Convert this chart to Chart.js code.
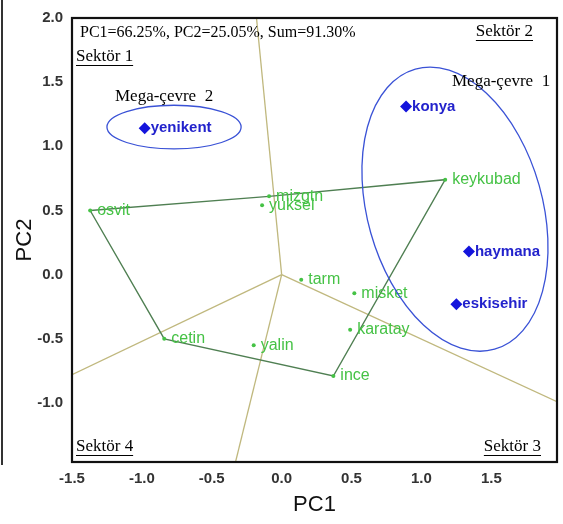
<!DOCTYPE html>
<html>
<head>
<meta charset="utf-8">
<script src="https://cdn.jsdelivr.net/npm/chart.js@4.4.1/dist/chart.umd.min.js"></script>
<style>
  html, body { margin: 0; padding: 0; background: #fff; }
  #wrap { width: 563px; height: 524px; }
</style>
</head>
<body>
<div id="wrap"><canvas id="gge"></canvas></div>
<script>
// genotypes (green dots)
const genotypes = ['osvit', 'mizgtn', 'yuksel', 'keykubad', 'tarm', 'misket', 'karatay', 'ince', 'cetin', 'yalin'];
const genoPC1 = [-1.37, -0.09, -0.14, 1.17, 0.14, 0.52, 0.49, 0.37, -0.84, -0.20];
const genoPC2 = [0.50, 0.61, 0.54, 0.74, -0.04, -0.145, -0.43, -0.79, -0.50, -0.55];

// environments (blue diamonds)
const environments = ['konya', 'haymana', 'eskisehir', 'yenikent'];
const envPC1 = [0.89, 1.34, 1.25, -0.98];
const envPC2 = [1.31, 0.18, -0.23, 1.14];

// polygon vertices
const hullOrder = ['osvit', 'mizgtn', 'keykubad', 'ince', 'cetin', 'osvit'];

// sector rays from origin
const rayPC1 = [-0.18, -0.33, -1.5, 1.97];
const rayPC2 = [2.0, -1.46, -0.78, -0.99];

// mega-environment ellipses
const megaNames = ['Mega-çevre  1', 'Mega-çevre  2'];
const megaPC1 = [1.24, -0.77];
const megaPC2 = [0.51, 1.15];
const megaRx = [0.626, 0.48];
const megaRy = [1.134, 0.17];
const megaTilt = [-15.8, 0];

const xTicks = [-1.5, -1.0, -0.5, 0.0, 0.5, 1.0, 1.5];
const yTicks = [-1.0, -0.5, 0.0, 0.5, 1.0, 1.5, 2.0];

const summaryText = 'PC1=66.25%, PC2=25.05%, Sum=91.30%';
const sectorNames = ['Sektör 1', 'Sektör 2', 'Sektör 3', 'Sektör 4'];

const green = '#45c245';
const blue = '#1414dc';

const genoPts = genotypes.map((g, i) => ({ x: genoPC1[i], y: genoPC2[i] }));
const envPts = environments.map((e, i) => ({ x: envPC1[i], y: envPC2[i] }));
const hullPts = hullOrder.map(n => genoPts[genotypes.indexOf(n)]);

const rayDatasets = rayPC1.map((x, i) => ({
  label: 'ray' + i,
  data: [{ x: 0, y: 0 }, { x: x, y: rayPC2[i] }],
  showLine: true,
  borderColor: '#c0b87e',
  borderWidth: 1.3,
  pointRadius: 0
}));

const serif = '"Liberation Serif", "Times New Roman", serif';
const sans = '"Liberation Sans", Arial, sans-serif';

const decorPlugin = {
  id: 'decor',
  beforeDraw(chart) {
    const ctx = chart.ctx;
    ctx.save();
    ctx.fillStyle = '#fff';
    ctx.fillRect(0, 0, chart.width, chart.height);
    // left edge line from the cropped figure
    ctx.fillStyle = '#333';
    ctx.fillRect(1, 0, 2, 465);
    ctx.restore();
  },
  afterDatasetsDraw(chart) {
    const ctx = chart.ctx;
    const xs = chart.scales.x, ys = chart.scales.y;
    const a = chart.chartArea;
    ctx.save();

    // point labels
    ctx.textBaseline = 'middle';
    ctx.textAlign = 'left';
    ctx.font = '16px ' + sans;
    ctx.fillStyle = green;
    genotypes.forEach((g, i) => {
      ctx.fillText(g, xs.getPixelForValue(genoPC1[i]) + 7, ys.getPixelForValue(genoPC2[i]));
    });
    ctx.font = 'bold 15px ' + sans;
    ctx.fillStyle = '#2222cc';
    environments.forEach((e, i) => {
      ctx.fillText(e, xs.getPixelForValue(envPC1[i]) + 6, ys.getPixelForValue(envPC2[i]));
    });

    // ellipses
    ctx.strokeStyle = '#3a52d6';
    ctx.lineWidth = 1.3;
    megaNames.forEach((m, i) => {
      const cx = xs.getPixelForValue(megaPC1[i]);
      const cy = ys.getPixelForValue(megaPC2[i]);
      const rx = Math.abs(xs.getPixelForValue(megaPC1[i] + megaRx[i]) - cx);
      const ry = Math.abs(ys.getPixelForValue(megaPC2[i] + megaRy[i]) - cy);
      ctx.beginPath();
      ctx.ellipse(cx, cy, rx, ry, megaTilt[i] * Math.PI / 180, 0, Math.PI * 2);
      ctx.stroke();
    });

    // annotation text
    ctx.fillStyle = '#000';
    ctx.font = '16px ' + serif;
    ctx.fillText(summaryText, a.left + 8, a.top + 15);

    ctx.font = '17px ' + serif;
    ctx.fillText(megaNames[1], a.left + 43, a.top + 79);
    ctx.fillText(megaNames[0], a.left + 380, a.top + 64);

    const sectorPos = [
      [a.left + 4, a.top + 39, 'left'],
      [a.right - 24, a.top + 14, 'right'],
      [a.right - 16, a.bottom - 15, 'right'],
      [a.left + 4, a.bottom - 15, 'left']
    ];
    ctx.strokeStyle = '#000';
    ctx.lineWidth = 1;
    sectorNames.forEach((s, i) => {
      const [px, py, al] = sectorPos[i];
      ctx.textAlign = al;
      ctx.fillText(s, px, py);
      const w = ctx.measureText(s).width;
      const x0 = al === 'left' ? px : px - w;
      ctx.beginPath();
      ctx.moveTo(x0, py + 8.5);
      ctx.lineTo(x0 + w, py + 8.5);
      ctx.stroke();
    });

    // frame
    ctx.strokeStyle = '#111';
    ctx.lineWidth = 2.2;
    ctx.strokeRect(a.left, a.top, a.right - a.left, a.bottom - a.top);
    ctx.restore();
  }
};

new Chart(document.getElementById('gge'), {
  type: 'scatter',
  data: {
    datasets: [
      {
        label: 'environments',
        data: envPts,
        pointStyle: 'rectRot',
        pointRadius: 6,
        backgroundColor: blue,
        borderColor: blue,
        borderWidth: 0
      },
      {
        label: 'genotypes',
        data: genoPts,
        pointRadius: 2,
        backgroundColor: green,
        borderColor: green,
        borderWidth: 0
      },
      {
        label: 'polygon',
        data: hullPts,
        showLine: true,
        borderColor: '#4f7f52',
        borderWidth: 1.4,
        pointRadius: 0
      },
      ...rayDatasets
    ]
  },
  options: {
    responsive: true,
    maintainAspectRatio: false,
    animation: false,
    layout: { padding: { left: 0, right: 5, top: 8, bottom: 0 } },
    plugins: {
      legend: { display: false },
      tooltip: { enabled: false }
    },
    scales: {
      x: {
        type: 'linear',
        min: -1.5,
        max: 1.97,
        grid: { display: false, drawTicks: false },
        border: { display: false },
        afterBuildTicks: s => { s.ticks = xTicks.map(v => ({ value: v })); },
        afterFit: s => { s.height = 62; },
        ticks: {
          padding: 8,
          color: '#333',
          font: { family: sans, size: 15, weight: 'bold' },
          callback: v => v.toFixed(1)
        },
        title: {
          display: true,
          text: 'PC1',
          color: '#111',
          font: { family: sans, size: 22 },
          padding: { top: 0, bottom: 6 }
        }
      },
      y: {
        type: 'linear',
        min: -1.46,
        max: 2.0,
        grid: { display: false, drawTicks: false },
        border: { display: false },
        afterBuildTicks: s => { s.ticks = yTicks.map(v => ({ value: v })); },
        afterFit: s => { s.width = 72; },
        ticks: {
          padding: 9,
          color: '#333',
          font: { family: sans, size: 15, weight: 'bold' },
          callback: v => v.toFixed(1)
        },
        title: {
          display: true,
          text: 'PC2',
          color: '#111',
          font: { family: sans, size: 22 },
          padding: { top: 12, bottom: 0 }
        }
      }
    }
  },
  plugins: [decorPlugin]
});
</script>
</body>
</html>
